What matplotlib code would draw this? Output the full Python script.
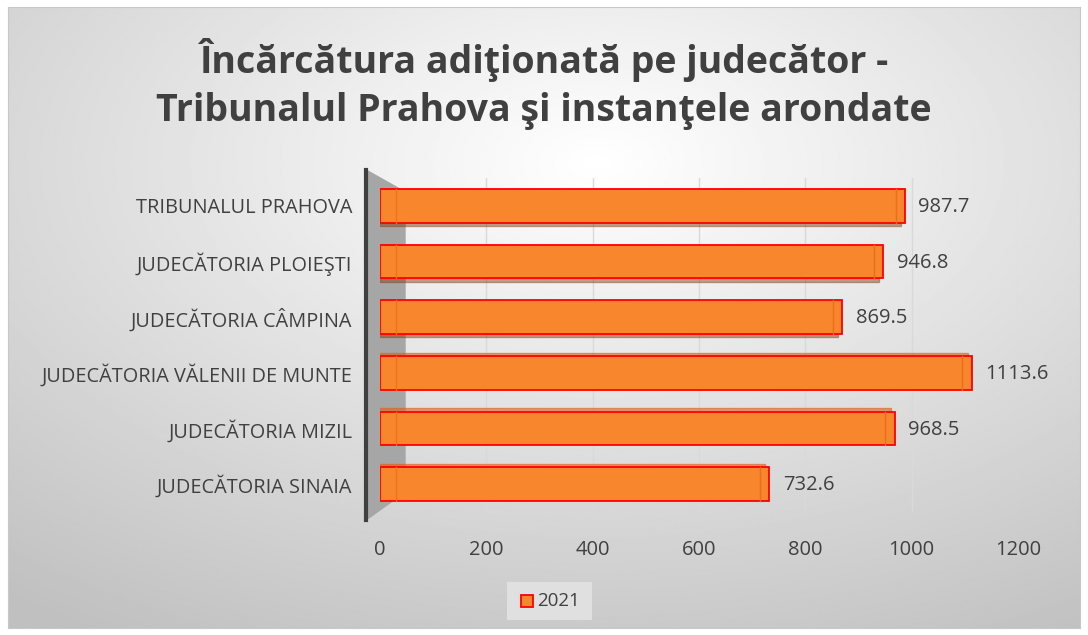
import numpy as np
import matplotlib.pyplot as plt
from matplotlib.patches import Polygon, Rectangle

# data (top to bottom as shown)
categories = ['TRIBUNALUL PRAHOVA', 'JUDECĂTORIA PLOIEŞTI', 'JUDECĂTORIA CÂMPINA',
              'JUDECĂTORIA VĂLENII DE MUNTE', 'JUDECĂTORIA MIZIL', 'JUDECĂTORIA SINAIA']
values = [987.7, 946.8, 869.5, 1113.6, 968.5, 732.6]
series_name = '2021'
title = 'Încărcătura adiţionată pe judecător -\nTribunalul Prahova şi instanţele arondate'

plt.rcParams['font.family'] = ['Open Sans', 'DejaVu Sans']
W, H = 1088, 635
fig = plt.figure(figsize=(W / 100, H / 100), dpi=100)

# radial grey background
bg = fig.add_axes([8 / W, 7 / H, 1072 / W, 621 / H])
yy, xx = np.mgrid[0:1:300j, 0:1:500j]
r = np.sqrt(((xx - 0.55) / 0.9) ** 2 + ((yy - 0.25) / 0.9) ** 2)
bg.imshow(1 - 0.25 * np.clip(r, 0, 1), cmap='gray', vmin=0, vmax=1,
          extent=[0, 1, 0, 1], aspect='auto', origin='upper')
bg.set_xticks([])
bg.set_yticks([])
for s in bg.spines.values():
    s.set_color('#c8c8c8')

def fx(px):
    return px / W

def fy(py):
    return 1 - py / H

# left wall
wall = Polygon([(fx(366), fy(170)), (fx(405), fy(192)), (fx(405), fy(492)), (fx(366), fy(520))],
               closed=True, transform=fig.transFigure, color='#a6a6a6', zorder=1)
fig.patches.append(wall)
fig.add_artist(plt.Line2D([fx(366), fx(366)], [fy(170), fy(520)], transform=fig.transFigure,
                          color='#404040', lw=3, zorder=2))

ax = fig.add_axes([380 / W, 1 - 512 / H, 638 / W, 334 / H])
ax.patch.set_alpha(0)
ax.set_zorder(3)
y = np.arange(len(categories))
ax.set_xlim(0, 1200)
ax.set_ylim(len(categories) - 0.5, -0.5)

for x in range(200, 1201, 200):
    ax.axvline(x, color='#d9d9d9', lw=1, zorder=0)

bh = 0.6
for i, v in enumerate(values):
    # thin depth face
    if i < 3:
        ax.add_patch(Rectangle((0, y[i] + bh / 2), v - 8, 0.06, color='#8a3b12', alpha=0.45, zorder=1))
    else:
        ax.add_patch(Rectangle((0, y[i] - bh / 2 - 0.06), v - 8, 0.06, color='#e0621b', alpha=0.6, zorder=1))
ax.barh(y, values, height=bh, color='#f7862c', edgecolor='#ff0000', linewidth=1.3, zorder=2)
for i, v in enumerate(values):
    ax.plot([v - 18, v - 18], [y[i] - bh / 2, y[i] + bh / 2], color='#ec6d1e', lw=1, zorder=3)
    ax.plot([30, 30], [y[i] - bh / 2, y[i] + bh / 2], color='#ee7420', lw=1, zorder=3)
    ax.text(v + 25, y[i] + 0.02, f'{v:.1f}', va='center', ha='left', fontsize=14.5, color='#404040')

ax.set_yticks(y)
ax.set_yticklabels(categories, fontsize=14.3, color='#404040')
ax.tick_params(axis='y', length=0, pad=20)
ax.set_xticks(range(0, 1201, 200))
ax.set_xticklabels([str(t) for t in range(0, 1201, 200)], fontsize=14.5, color='#404040')
ax.tick_params(axis='x', length=0, pad=20)
for s in ax.spines.values():
    s.set_visible(False)

fig.text(0.5, fy(84), title, ha='center', va='center', fontsize=27, fontweight='bold',
         color='#404040', linespacing=1.32)

# legend
lg = fig.add_axes([fx(507), fy(620), 85 / W, 38 / H])
lg.set_xlim(0, 85)
lg.set_ylim(0, 38)
lg.patch.set_color('#e0e0e0')
lg.set_xticks([])
lg.set_yticks([])
for s in lg.spines.values():
    s.set_visible(False)
lg.add_patch(Rectangle((14, 13), 12, 12, facecolor='#f7862c', edgecolor='#ff0000', lw=1.3))
lg.text(30, 19, series_name, va='center', ha='left', fontsize=13.5, color='#404040')

fig.savefig('out.png', dpi=100)
